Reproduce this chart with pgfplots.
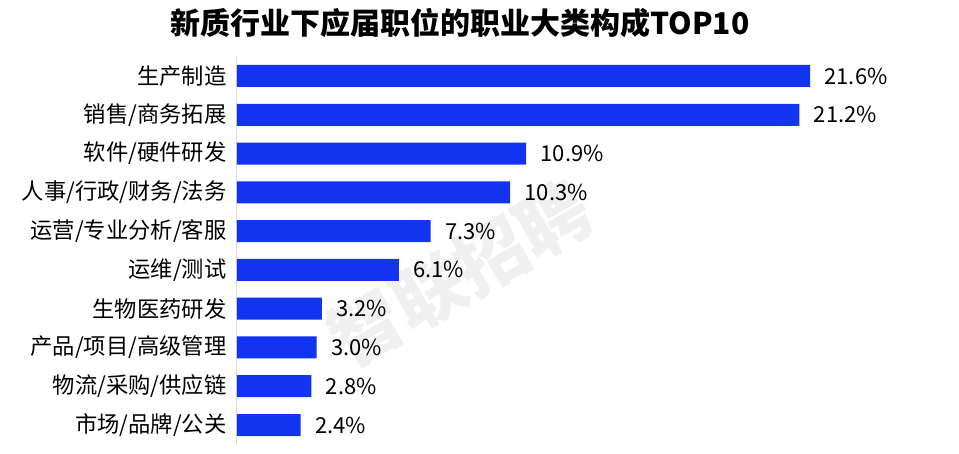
\documentclass[border=0pt]{standalone}
\usepackage{pgfplots}
\pgfplotsset{compat=1.18}
\usepackage{fontspec}
\setmainfont{Noto Sans CJK SC}
\definecolor{barblue}{RGB}{18,52,240}
\begin{document}
\begin{tikzpicture}
\useasboundingbox (0,0) rectangle (959pt,454pt);
\node[font=\fontsize{30}{34}\selectfont\bfseries] at (460pt,431pt) {新质行业下应届职位的职业大类构成TOP10};
\node[rotate=30, text=black!6, font=\fontsize{72}{76}\selectfont\bfseries] at (460pt,180pt) {智联招聘};
\begin{axis}[
  at={(237pt,9.6pt)}, anchor=south west, scale only axis,
  width=573pt, height=387.8pt,
  xmin=0, xmax=21.6, ymin=-0.5, ymax=9.5, y dir=reverse,
  xbar, bar width=22pt, hide x axis,
  axis y line*=left, y axis line style={-, draw=black!15, line width=1pt},
  ytick={0,...,9}, major tick length=0pt,
  yticklabels={生产制造,销售/商务拓展,软件/硬件研发,人事/行政/财务/法务,运营/专业分析/客服,运维/测试,生物医药研发,产品/项目/高级管理,物流/采购/供应链,市场/品牌/公关},
  yticklabel style={font=\fontsize{22.3}{25}\selectfont, xshift=-7pt},
  nodes near coords, point meta=explicit symbolic,
  nodes near coords style={font=\fontsize{22}{25}\selectfont, anchor=west, xshift=11pt},
  clip=false]
\addplot[fill=barblue, draw=none] table[x=v, y=i, meta=l] {
i v l
0 21.6 21.6\%
1 21.2 21.2\%
2 10.9 10.9\%
3 10.3 10.3\%
4 7.3 7.3\%
5 6.1 6.1\%
6 3.2 3.2\%
7 3.0 3.0\%
8 2.8 2.8\%
9 2.4 2.4\%
};
\end{axis}
\end{tikzpicture}
\end{document}
